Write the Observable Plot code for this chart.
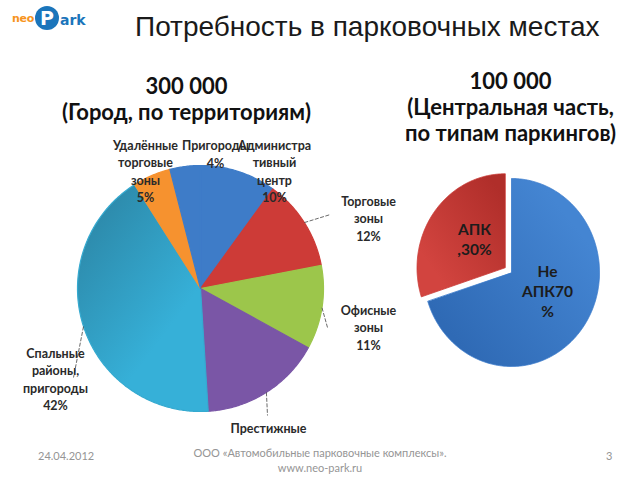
<!DOCTYPE html>
<html>
<head>
<meta charset="utf-8">
<script src="https://cdn.jsdelivr.net/npm/d3@7"></script>
<script src="https://cdn.jsdelivr.net/npm/@observablehq/plot@0.6"></script>
<style>
  body { margin: 0; background: #fff; }
  #wrap { position: relative; width: 640px; height: 480px; overflow: hidden; background: #fff; }
  #chart { position: absolute; left: 0; top: 0; }
  #chart svg { overflow: hidden; }
  #logo { position: absolute; left: 12px; top: 5px; height: 26px; display: flex; align-items: center; font-family: "DejaVu Sans", sans-serif; font-weight: bold; }
  #logo .neo { color: #F7941D; font-size: 11px; letter-spacing: -0.3px; }
  #logo .p { display: inline-block; width: 24px; height: 24px; border-radius: 12px; background: #1B75BB; color: #fff; font-size: 19px; line-height: 24px; text-align: center; margin-left: 1px; }
  #logo .ark { color: #1B75BB; font-size: 14px; margin-left: 1px; position: relative; top: 2px; }
  #title { position: absolute; left: 135px; top: 11px; font-family: "Liberation Sans", Arial, sans-serif; font-size: 28px; color: #1a1a1a; white-space: nowrap; }
  .foot { position: absolute; font-family: Lato, "Liberation Sans", sans-serif; font-size: 11px; color: #959595; white-space: nowrap; }
</style>
</head>
<body>
<div id="wrap">
  <div id="chart"></div>
  <div id="logo"><span class="neo">neo</span><span class="p">P</span><span class="ark">ark</span></div>
  <div id="title">Потребность в парковочных местах</div>
  <div class="foot" style="left:38px; top:449px;">24.04.2012</div>
  <div class="foot" style="left:0; width:640px; top:445px; text-align:center; line-height:15px;">ООО «Автомобильные парковочные комплексы».<br>www.neo-park.ru</div>
  <div class="foot" style="left:606px; top:449px;">3</div>
</div>
<script>
// ---------- data ----------
const cityTotal = "300 000";
const citySubtitle = "(Город, по территориям)";
const cityCategories = ["Административный центр", "Торговые зоны", "Офисные зоны", "Престижные жилые", "Спальные районы, пригороды", "Удалённые торговые зоны", "Пригороды"];
const cityLabelLines = ["Администра\nтивный\nцентр", "Торговые\nзоны", "Офисные\nзоны", "Престижные\nжилые", "Спальные\nрайоны,\nпригороды", "Удалённые\nторговые\nзоны", "Пригороды"];
const cityShares = [10, 12, 11, 16, 42, 5, 4];

const centerTotal = "100 000";
const centerSubtitle = "(Центральная часть,\nпо типам паркингов)";
const centerCategories = ["Не АПК", "АПК"];
const centerLabelText = ["Не\nАПК70\n%", "АПК\n,30%"];
const centerShares = [70, 30];

// ---------- styling / layout ----------
const cityColors = ["#3E7CC8", "#CD3B37", "#9CC64B", "#7A56A6", "#35AAD0", "#F6922F", "#3E7CC8"];
const centerColors = ["#3B7BCB", "#C93834"];
const gradients = {
  "#35AAD0": ["g-aqua", "#2C86A6", "#36B0D8", 0.05, 0.1, 0.55, 0.75],
  "#3B7BCB": ["g-blue", "#2F6AB5", "#4485D2", 0.2, 0.9, 0.9, 0.3],
  "#C93834": ["g-red", "#D2443F", "#B02E2A", 0.2, 0.8, 0.9, 0.1]
};
const cityPie = {cx: 200, cy: 288, rx: 123, ry: 123};
const centerPie = {cx: 511, cy: 272, rx: 88, ry: 94};
const centerExplode = [0, 8];
const cityLabelPos = [[274, 170], [368, 217], [368, 326], [268, 444], [55, 378], [145, 170], [215, 153]];
const cityLeaderEnd = [null, [330, 214], [327, 327], [267, 415], [73, 377], null, null];
const centerLabelPos = [[547, 290], [474, 238]];

const font = "Lato, 'Open Sans', sans-serif";

function wedges(values, cats, pie, explode) {
  const arcs = d3.pie().sort(null)(values);
  const pts = [];
  const info = [];
  arcs.forEach((a, i) => {
    const mid = (a.startAngle + a.endAngle) / 2;
    const e = explode ? explode[i] : 0;
    const ox = pie.cx + e * Math.sin(mid), oy = pie.cy - e * Math.cos(mid);
    pts.push({key: cats[i], x: ox, y: oy});
    const n = Math.max(2, Math.ceil((a.endAngle - a.startAngle) / 0.01));
    for (let k = 0; k <= n; k++) {
      const t = a.startAngle + (a.endAngle - a.startAngle) * k / n;
      pts.push({key: cats[i], x: ox + pie.rx * Math.sin(t), y: oy - pie.ry * Math.cos(t)});
    }
    info.push({key: cats[i], mid, ex: ox + pie.rx * Math.sin(mid), ey: oy - pie.ry * Math.cos(mid)});
  });
  return {pts, info};
}

const city = wedges(cityShares, cityCategories, cityPie, null);
const center = wedges(centerShares, centerCategories, centerPie, centerExplode);

const cityLabels = cityCategories.map((c, i) => ({
  key: c, text: cityLabelLines[i] + "\n" + cityShares[i] + "%", x: cityLabelPos[i][0], y: cityLabelPos[i][1]
}));
const leaders = city.info.map((d, i) => cityLeaderEnd[i] ? {x1: d.ex, y1: d.ey, x2: cityLeaderEnd[i][0], y2: cityLeaderEnd[i][1]} : null).filter(d => d);
const centerLabels = centerCategories.map((c, i) => ({key: c, text: centerLabelText[i], x: centerLabelPos[i][0], y: centerLabelPos[i][1]}));
const headings = [
  {text: cityTotal + "\n" + citySubtitle, x: 186, y: 98},
  {text: centerTotal + "\n" + centerSubtitle, x: 510, y: 106}
];

const chart = Plot.plot({
  width: 640,
  height: 440,
  margin: 0,
  style: {background: "transparent"},
  x: {domain: [0, 640], range: [0, 640], axis: null},
  y: {domain: [0, 440], range: [0, 440], axis: null},
  color: {domain: [...cityCategories, ...centerCategories], range: [...cityColors, ...centerColors]},
  marks: [
    Plot.line(city.pts, {x: "x", y: "y", z: "key", fill: "key", stroke: "key", strokeWidth: 1.2, curve: "linear-closed"}),
    Plot.line(center.pts, {x: "x", y: "y", z: "key", fill: "key", stroke: "key", strokeWidth: 0.8, curve: "linear-closed"}),
    Plot.link(leaders, {x1: "x1", y1: "y1", x2: "x2", y2: "y2", stroke: "#444", strokeWidth: 0.8, strokeDasharray: "4,1.5"}),
    Plot.text(cityLabels, {x: "x", y: "y", text: "text", fontFamily: font, fontWeight: "bold", fontSize: 12.5, lineHeight: 1.4, fill: "#2a2a2a"}),
    Plot.text(centerLabels, {x: "x", y: "y", text: "text", fontFamily: font, fontWeight: "bold", fontSize: 15.5, lineHeight: 1.3, fill: "#1c1c1c"}),
    Plot.text(headings, {x: "x", y: "y", text: "text", fontFamily: font, fontWeight: "bold", fontSize: 22, lineHeight: 1.18, fill: "#111"})
  ]
});

// soft shading like the original slide's pie fills
const ns = "http://www.w3.org/2000/svg";
const defs = document.createElementNS(ns, "defs");
for (const [col, [id, c0, c1, x1, y1, x2, y2]] of Object.entries(gradients)) {
  const g = document.createElementNS(ns, "linearGradient");
  g.setAttribute("id", id);
  g.setAttribute("x1", x1); g.setAttribute("y1", y1); g.setAttribute("x2", x2); g.setAttribute("y2", y2);
  for (const [off, c] of [[0, c0], [1, c1]]) {
    const s = document.createElementNS(ns, "stop");
    s.setAttribute("offset", off); s.setAttribute("stop-color", c);
    g.appendChild(s);
  }
  defs.appendChild(g);
}
chart.insertBefore(defs, chart.firstChild);
chart.querySelectorAll("path").forEach(p => {
  const f = (p.getAttribute("fill") || "").toUpperCase();
  for (const [col, [id]] of Object.entries(gradients)) {
    if (f === col.toUpperCase()) p.setAttribute("fill", `url(#${id})`);
  }
});
document.getElementById("chart").appendChild(chart);
</script>
</body>
</html>
